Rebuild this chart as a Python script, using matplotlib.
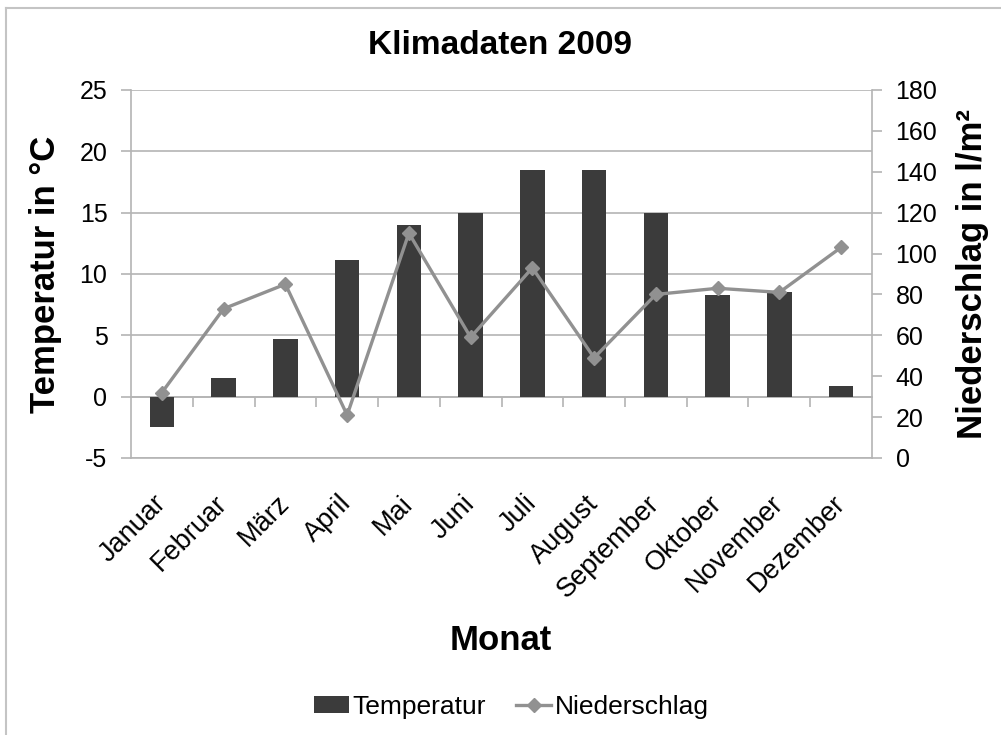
import numpy as np
import matplotlib
matplotlib.use("Agg")
import matplotlib.pyplot as plt
from matplotlib.lines import Line2D

plt.rcParams['font.family'] = ['Liberation Sans', 'DejaVu Sans']
plt.rcParams['axes.unicode_minus'] = False

monate = ["Januar", "Februar", "März", "April", "Mai", "Juni", "Juli",
          "August", "September", "Oktober", "November", "Dezember"]
temperatur = [-2.5, 1.5, 4.7, 11.1, 14.0, 15.0, 18.5, 18.5, 15.0, 8.3, 8.5, 0.9]
niederschlag = [32, 73, 85, 21, 110, 59, 93, 49, 80, 83, 81, 103]

gitter = "#b4b4b4"
balken = "#3b3b3b"
linie = "#919191"

fig = plt.figure(figsize=(10.01, 7.35), dpi=100)
ax = fig.add_axes([0.1309, 0.3769, 0.8711 - 0.1309, 0.8776 - 0.3769])

x = np.arange(len(monate))
b = ax.bar(x, temperatur, width=0.4, color=balken, zorder=3, label="Temperatur")

ax.set_ylim(-5, 25)
ax.set_yticks(range(-5, 26, 5))
ax.set_xlim(-0.5, len(monate) - 0.5)
ax.grid(axis="y", color=gitter, linewidth=1.2, zorder=0)
ax.set_axisbelow(True)

for s in ["top", "right"]:
    ax.spines[s].set_visible(False)
ax.spines["left"].set_color(gitter)
ax.spines["left"].set_linewidth(1.2)
ax.spines["bottom"].set_color(gitter)
ax.spines["bottom"].set_linewidth(1.2)

ax.tick_params(axis="y", labelsize=18, color=gitter, length=7, width=1.2, pad=10)
ax.set_xticks(x)
ax.set_xticklabels(monate, rotation=45, ha="right", va="center",
                   rotation_mode="anchor", fontsize=19.5)
ax.tick_params(axis="x", length=0, pad=30)

# Kategorieachse bei 0 mit Teilstrichen zwischen den Monaten
sek = ax.secondary_xaxis(5 / 30)
sek.set_xticks(np.arange(0.5, len(monate) - 1, 1.0))
sek.set_xticklabels([])
sek.tick_params(axis="x", direction="out", length=7, width=1.2, color=gitter)
sek.spines["bottom"].set_color(gitter)
sek.spines["bottom"].set_linewidth(1.2)

ax2 = ax.twinx()
l, = ax2.plot(x, niederschlag, color=linie, linewidth=2.4, marker="D",
              markersize=7.5, markerfacecolor=linie, markeredgecolor=linie,
              zorder=4, label="Niederschlag")
ax2.set_ylim(0, 180)
ax2.set_yticks(range(0, 181, 20))
for s in ["top", "left", "bottom"]:
    ax2.spines[s].set_visible(False)
ax2.spines["right"].set_color(gitter)
ax2.spines["right"].set_linewidth(1.2)
ax2.tick_params(axis="y", labelsize=18, color=gitter, length=7, width=1.2, pad=10)

fig.text(0.5, 0.938, "Klimadaten 2009", ha="center", va="center",
         fontsize=24, fontweight="bold")
fig.text(0.045, 0.6272, "Temperatur in °C", rotation=90, ha="center", va="center",
         fontsize=25, fontweight="bold")
fig.text(0.972, 0.6272, "Niederschlag in l/m²", rotation=90, ha="center", va="center",
         fontsize=25, fontweight="bold")
fig.text(0.5, 0.128, "Monat", ha="center", va="center",
         fontsize=25, fontweight="bold")

fig.legend(handles=[b, l], loc="center", bbox_to_anchor=(0.511, 0.038),
           ncol=2, frameon=False, fontsize=19, handlelength=1.3,
           handleheight=0.6, handletextpad=0.15, columnspacing=1.15)

# Rahmen oben und links
fig.add_artist(Line2D([6 / 1001, 6 / 1001], [0, 1 - 8 / 735],
                      color="#c4c4c4", linewidth=1.5, transform=fig.transFigure))
fig.add_artist(Line2D([6 / 1001, 1], [1 - 8 / 735, 1 - 8 / 735],
                      color="#c4c4c4", linewidth=1.5, transform=fig.transFigure))

fig.savefig("out.png", dpi=100)
